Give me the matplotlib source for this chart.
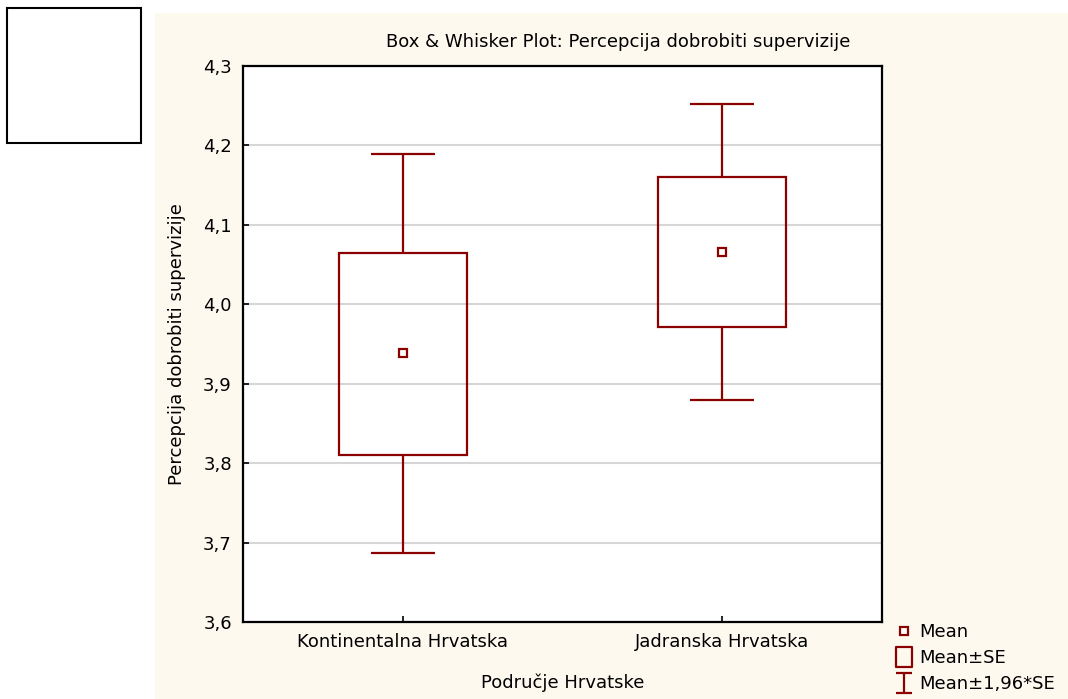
import numpy as np
import matplotlib.pyplot as plt
from matplotlib.lines import Line2D
from matplotlib.path import Path
from matplotlib.patches import Rectangle
from matplotlib.ticker import FuncFormatter

plt.rcParams['font.family'] = ['DejaVu Sans']

# Data
groups = ["Kontinentalna Hrvatska", "Jadranska Hrvatska"]
mean = [3.939, 4.066]
se_lo = [3.810, 3.972]
se_hi = [4.065, 4.160]
ci_lo = [3.687, 3.880]
ci_hi = [4.189, 4.252]

red = "#8b0000"
cream = "#fef9ef"
fs = 13

fig = plt.figure(figsize=(10.68, 6.99), dpi=100)
fig.patch.set_facecolor("white")

# cream background panel and empty box top-left
fig.patches.append(Rectangle((155 / 1068, 0), 1 - 155 / 1068, 1 - 13 / 699,
                             transform=fig.transFigure, facecolor=cream,
                             edgecolor="none", zorder=-10))
fig.patches.append(Rectangle((7 / 1068, 1 - 143 / 699), 134 / 1068, 135 / 699,
                             transform=fig.transFigure, facecolor="white",
                             edgecolor="black", linewidth=1.5, zorder=-9))

ax = fig.add_axes([243 / 1068, 1 - 622 / 699, 639 / 1068, 556 / 699])
ax.set_facecolor("white")

x = np.arange(len(groups))
ax.bar(x, np.array(se_hi) - np.array(se_lo), bottom=se_lo, width=0.4,
       fill=False, edgecolor=red, linewidth=1.6, zorder=3)
ax.vlines(x, ci_lo, se_lo, color=red, linewidth=1.6, zorder=3)
ax.vlines(x, se_hi, ci_hi, color=red, linewidth=1.6, zorder=3)
ax.hlines(ci_lo, x - 0.1, x + 0.1, color=red, linewidth=1.6, zorder=3)
ax.hlines(ci_hi, x - 0.1, x + 0.1, color=red, linewidth=1.6, zorder=3)
ax.plot(x, mean, "s", markersize=5.5, markerfacecolor="white",
        markeredgecolor=red, markeredgewidth=1.6, linestyle="none", zorder=4)

ax.set_xlim(-0.5, 1.5)
ax.set_ylim(3.6, 4.3)
ax.set_yticks(np.arange(3.6, 4.31, 0.1))
ax.yaxis.set_major_formatter(FuncFormatter(lambda v, p: f"{v:.1f}".replace(".", ",")))
ax.set_xticks(x)
ax.set_xticklabels(groups)
ax.tick_params(direction="in", length=4, width=1.2, labelsize=fs, pad=8,
               colors="black")
ax.yaxis.grid(True, color="#d6d6d6", linewidth=1.5, zorder=0)
ax.set_axisbelow(True)
for s in ax.spines.values():
    s.set_linewidth(1.6)
    s.set_color("black")

ax.set_xlabel("Područje Hrvatske", fontsize=fs, labelpad=16)
ax.set_ylabel("Percepcija dobrobiti supervizije", fontsize=fs, labelpad=12)
fig.text(618 / 1068, 1 - 42 / 699, "Box & Whisker Plot: Percepcija dobrobiti supervizije",
         ha="center", va="center", fontsize=fs)

# legend
box_path = Path([(-0.4, -0.5), (0.4, -0.5), (0.4, 0.5), (-0.4, 0.5), (-0.4, -0.5)],
                [Path.MOVETO, Path.LINETO, Path.LINETO, Path.LINETO, Path.CLOSEPOLY])
ibeam = Path([(-0.4, 0.5), (0.4, 0.5), (0, 0.5), (0, -0.5), (-0.4, -0.5), (0.4, -0.5)],
             [Path.MOVETO, Path.LINETO, Path.MOVETO, Path.LINETO, Path.MOVETO, Path.LINETO])
handles = [
    Line2D([], [], marker="s", markersize=6, markerfacecolor="white",
           markeredgecolor=red, markeredgewidth=1.6, linestyle="none"),
    Line2D([], [], marker=box_path, markersize=15, markerfacecolor="none",
           markeredgecolor=red, markeredgewidth=1.6, linestyle="none"),
    Line2D([], [], marker=ibeam, markersize=15, markerfacecolor="none",
           markeredgecolor=red, markeredgewidth=1.6, linestyle="none"),
]
fig.legend(handles, ["Mean", "Mean±SE", "Mean±1,96*SE"], loc="upper left",
           bbox_to_anchor=(886 / 1068, 1 - 616 / 699), frameon=False,
           fontsize=fs, handletextpad=0.25, labelspacing=0.45,
           borderaxespad=0, handlelength=1.2)

fig.savefig("out.png", dpi=100, facecolor="white")
